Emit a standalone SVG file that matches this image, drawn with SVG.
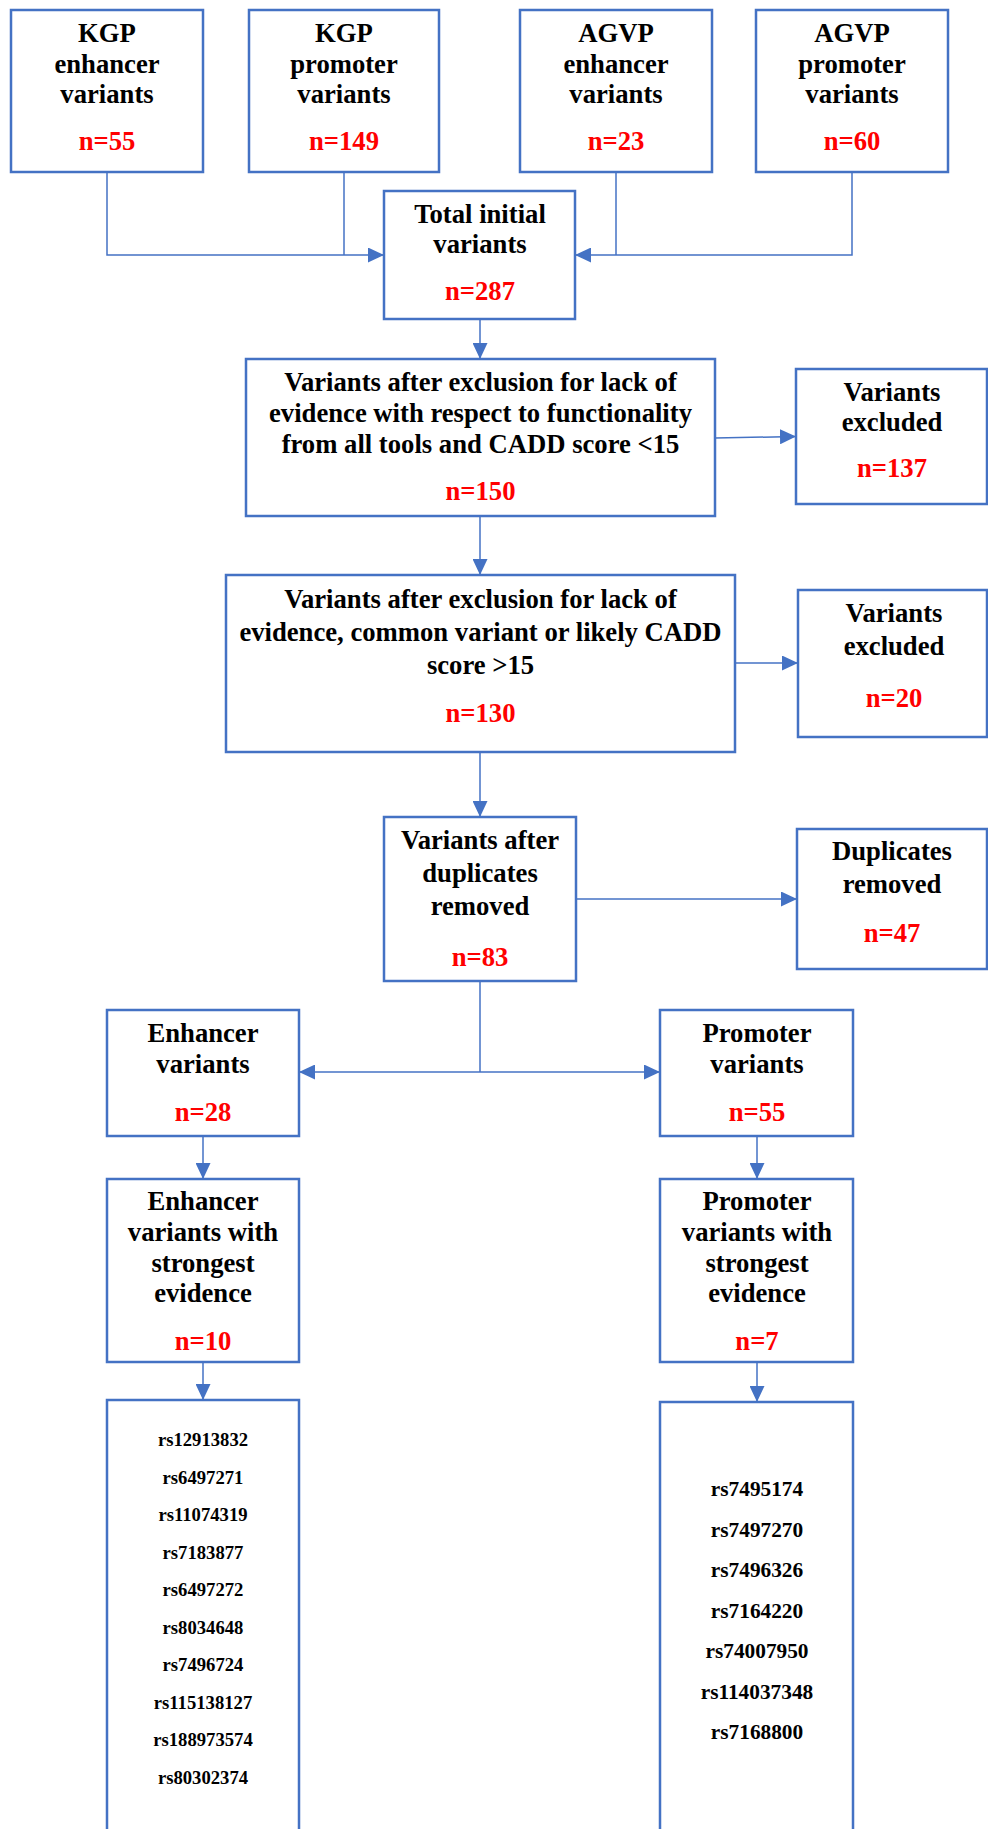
<svg xmlns="http://www.w3.org/2000/svg" width="988" height="1829" viewBox="0 0 988 1829">
<style>
.box{fill:#fff;stroke:#4472C4;stroke-width:2.5}
.t{font-family:"Liberation Serif","Times New Roman",serif;font-weight:bold;font-size:26.67px;fill:#000;text-anchor:middle}
.n{fill:#FF0000}
.s{font-size:18.67px}
.m{font-size:21.33px}
.c{fill:none;stroke:#4472C4;stroke-width:1.5}
</style>
<defs>
<marker id="ah" markerUnits="userSpaceOnUse" markerWidth="16" markerHeight="15" refX="16" refY="7.5" orient="auto">
<path d="M0,0 L16,7.5 L0,15 z" fill="#4472C4"/>
</marker>
</defs>
<rect width="988" height="1829" fill="#fff"/>
<g id="connectors">
<path class="c" d="M107,172 V255 H384" marker-end="url(#ah)"/>
<path class="c" d="M344,172 V255"/>
<path class="c" d="M852,172 V255 H575" marker-end="url(#ah)"/>
<path class="c" d="M616,172 V255"/>
<path class="c" d="M480,319 V359" marker-end="url(#ah)"/>
<path class="c" d="M715,438 L796,436.5" marker-end="url(#ah)"/>
<path class="c" d="M480,516 V575" marker-end="url(#ah)"/>
<path class="c" d="M735,663 H798" marker-end="url(#ah)"/>
<path class="c" d="M480,752 V817" marker-end="url(#ah)"/>
<path class="c" d="M576,899 H797" marker-end="url(#ah)"/>
<path class="c" d="M480,981 V1072"/>
<path class="c" d="M480,1072 H299" marker-end="url(#ah)"/>
<path class="c" d="M480,1072 H660" marker-end="url(#ah)"/>
<path class="c" d="M203,1136 V1179" marker-end="url(#ah)"/>
<path class="c" d="M757,1136 V1179" marker-end="url(#ah)"/>
<path class="c" d="M203,1362 V1400" marker-end="url(#ah)"/>
<path class="c" d="M757,1362 V1402" marker-end="url(#ah)"/>
</g>
<g id="kgp-enhancer">
<rect class="box" x="11" y="10" width="192" height="162"/>
<text class="t" x="107" y="42">KGP</text>
<text class="t" x="107" y="73">enhancer</text>
<text class="t" x="107" y="103">variants</text>
<text class="t n" x="107" y="150">n=55</text>
</g>
<g id="kgp-promoter">
<rect class="box" x="249" y="10" width="190" height="162"/>
<text class="t" x="344" y="42">KGP</text>
<text class="t" x="344" y="73">promoter</text>
<text class="t" x="344" y="103">variants</text>
<text class="t n" x="344" y="150">n=149</text>
</g>
<g id="agvp-enhancer">
<rect class="box" x="520" y="10" width="192" height="162"/>
<text class="t" x="616" y="42">AGVP</text>
<text class="t" x="616" y="73">enhancer</text>
<text class="t" x="616" y="103">variants</text>
<text class="t n" x="616" y="150">n=23</text>
</g>
<g id="agvp-promoter">
<rect class="box" x="756" y="10" width="192" height="162"/>
<text class="t" x="852" y="42">AGVP</text>
<text class="t" x="852" y="73">promoter</text>
<text class="t" x="852" y="103">variants</text>
<text class="t n" x="852" y="150">n=60</text>
</g>
<g id="total">
<rect class="box" x="384" y="191" width="191" height="128"/>
<text class="t" x="480" y="223">Total initial</text>
<text class="t" x="480" y="253">variants</text>
<text class="t n" x="480" y="300">n=287</text>
</g>
<g id="after-exclusion-1">
<rect class="box" x="246" y="359" width="469" height="157"/>
<text class="t" x="480.5" y="391">Variants after exclusion for lack of</text>
<text class="t" x="480.5" y="422">evidence with respect to functionality</text>
<text class="t" x="480.5" y="453">from all tools and CADD score &lt;15</text>
<text class="t n" x="480.5" y="500">n=150</text>
</g>
<g id="excluded-1">
<rect class="box" x="796" y="369" width="191" height="135"/>
<text class="t" x="892" y="401">Variants</text>
<text class="t" x="892" y="431">excluded</text>
<text class="t n" x="892" y="477">n=137</text>
</g>
<g id="after-exclusion-2">
<rect class="box" x="226" y="575" width="509" height="177"/>
<text class="t" x="480.5" y="608">Variants after exclusion for lack of</text>
<text class="t" x="480.5" y="641">evidence, common variant or likely CADD</text>
<text class="t" x="480.5" y="674">score &gt;15</text>
<text class="t n" x="480.5" y="722">n=130</text>
</g>
<g id="excluded-2">
<rect class="box" x="798" y="590" width="189" height="147"/>
<text class="t" x="894" y="622">Variants</text>
<text class="t" x="894" y="655">excluded</text>
<text class="t n" x="894" y="707">n=20</text>
</g>
<g id="after-duplicates">
<rect class="box" x="384" y="817" width="192" height="164"/>
<text class="t" x="480" y="849">Variants after</text>
<text class="t" x="480" y="882">duplicates</text>
<text class="t" x="480" y="915">removed</text>
<text class="t n" x="480" y="966">n=83</text>
</g>
<g id="duplicates-removed">
<rect class="box" x="797" y="829" width="190" height="140"/>
<text class="t" x="892" y="860">Duplicates</text>
<text class="t" x="892" y="893">removed</text>
<text class="t n" x="892" y="942">n=47</text>
</g>
<g id="enhancer-variants">
<rect class="box" x="107" y="1010" width="192" height="126"/>
<text class="t" x="203" y="1042">Enhancer</text>
<text class="t" x="203" y="1073">variants</text>
<text class="t n" x="203" y="1121">n=28</text>
</g>
<g id="promoter-variants">
<rect class="box" x="660" y="1010" width="193" height="126"/>
<text class="t" x="757" y="1042">Promoter</text>
<text class="t" x="757" y="1073">variants</text>
<text class="t n" x="757" y="1121">n=55</text>
</g>
<g id="enhancer-strongest">
<rect class="box" x="107" y="1179" width="192" height="183"/>
<text class="t" x="203" y="1210">Enhancer</text>
<text class="t" x="203" y="1241">variants with</text>
<text class="t" x="203" y="1272">strongest</text>
<text class="t" x="203" y="1302">evidence</text>
<text class="t n" x="203" y="1350">n=10</text>
</g>
<g id="promoter-strongest">
<rect class="box" x="660" y="1179" width="193" height="183"/>
<text class="t" x="757" y="1210">Promoter</text>
<text class="t" x="757" y="1241">variants with</text>
<text class="t" x="757" y="1272">strongest</text>
<text class="t" x="757" y="1302">evidence</text>
<text class="t n" x="757" y="1350">n=7</text>
</g>
<g id="enhancer-list">
<rect class="box" x="107" y="1400" width="192" height="440"/>
<text class="t s" x="203" y="1446">rs12913832</text>
<text class="t s" x="203" y="1483.5">rs6497271</text>
<text class="t s" x="203" y="1521">rs11074319</text>
<text class="t s" x="203" y="1558.5">rs7183877</text>
<text class="t s" x="203" y="1596">rs6497272</text>
<text class="t s" x="203" y="1633.5">rs8034648</text>
<text class="t s" x="203" y="1671">rs7496724</text>
<text class="t s" x="203" y="1708.5">rs115138127</text>
<text class="t s" x="203" y="1746">rs188973574</text>
<text class="t s" x="203" y="1783.5">rs80302374</text>
</g>
<g id="promoter-list">
<rect class="box" x="660" y="1402" width="193" height="440"/>
<text class="t m" x="757" y="1496">rs7495174</text>
<text class="t m" x="757" y="1536.5">rs7497270</text>
<text class="t m" x="757" y="1577">rs7496326</text>
<text class="t m" x="757" y="1617.5">rs7164220</text>
<text class="t m" x="757" y="1658">rs74007950</text>
<text class="t m" x="757" y="1698.5">rs114037348</text>
<text class="t m" x="757" y="1739">rs7168800</text>
</g>
</svg>
